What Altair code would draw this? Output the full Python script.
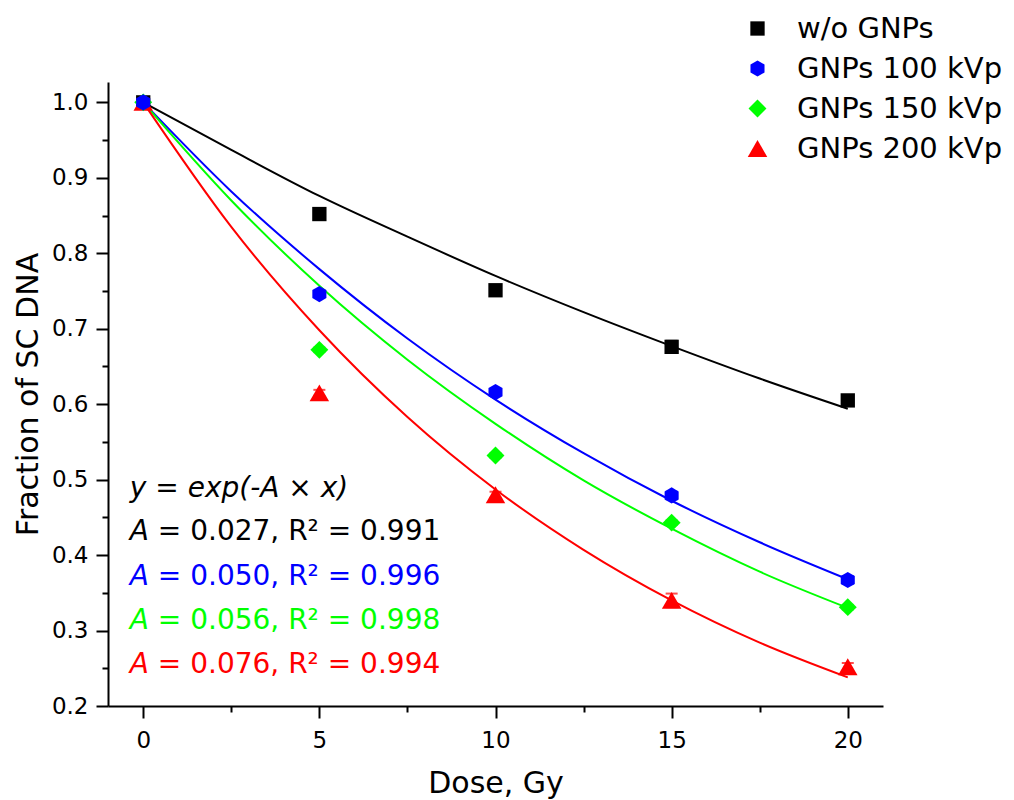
import altair as alt
import pandas as pd

# ---- data ----
doses = [0, 5, 10, 15, 20]
series = ["w/o GNPs", "GNPs 100 kVp", "GNPs 150 kVp", "GNPs 200 kVp"]
colors = ["#000000", "#0000FF", "#00FF00", "#FF0000"]

frac_wo = [1.000, 0.852, 0.751, 0.676, 0.605]
frac_100 = [1.000, 0.746, 0.616, 0.479, 0.367]
frac_150 = [1.000, 0.672, 0.532, 0.443, 0.331]
frac_200 = [1.000, 0.615, 0.480, 0.340, 0.252]

err_wo = [0.003, 0.004, 0.004, 0.008, 0.004]
err_100 = [0.003, 0.003, 0.003, 0.005, 0.005]
err_150 = [0.003, 0.003, 0.003, 0.003, 0.003]
err_200 = [0.003, 0.004, 0.004, 0.009, 0.005]

# fitted curves y = exp(-A x)
fit_x = [0, 2.5, 5, 7.5, 10, 12.5, 15, 17.5, 20]
fit_wo = [1.000, 0.937, 0.876, 0.822, 0.770, 0.722, 0.677, 0.634, 0.594]
fit_100 = [1.000, 0.882, 0.779, 0.687, 0.606, 0.535, 0.472, 0.417, 0.368]
fit_150 = [1.000, 0.870, 0.757, 0.659, 0.574, 0.499, 0.435, 0.378, 0.330]
fit_200 = [1.000, 0.835, 0.698, 0.583, 0.487, 0.407, 0.340, 0.284, 0.238]

fit_A = ["0.027", "0.050", "0.056", "0.076"]
fit_R2 = ["0.991", "0.996", "0.998", "0.994"]
equation = "y = exp(-A × x)"

x_ticks = [0, 5, 10, 15, 20]
x_minor = [2.5, 7.5, 12.5, 17.5]
y_ticks = [0.2, 0.3, 0.4, 0.5, 0.6, 0.7, 0.8, 0.9, 1.0]
y_minor = [0.25, 0.35, 0.45, 0.55, 0.65, 0.75, 0.85, 0.95]

# annotation placement (data coordinates)
ann_x = -0.38
ann_y = [0.487, 0.430, 0.371, 0.312, 0.254]

hexagon = "M0,-1L0.866,-0.5L0.866,0.5L0,1L-0.866,0.5L-0.866,-0.5Z"
shapes = ["square", hexagon, "diamond", "triangle-up"]
sizes = [205, 380, 380, 340]

FONT = "DejaVu Sans"

# ---- tables ----
fit_rows = []
for s, c, ys in zip(series, colors, [fit_wo, fit_100, fit_150, fit_200]):
    for x, y in zip(fit_x, ys):
        fit_rows.append({"dose": x, "frac": y, "series": s, "col": c})
fit_df = pd.DataFrame(fit_rows)

pt_rows = []
draw_order = [0, 3, 2, 1]
all_fr = [frac_wo, frac_100, frac_150, frac_200]
all_er = [err_wo, err_100, err_150, err_200]
for i in draw_order:
    for x, y, e in zip(doses, all_fr[i], all_er[i]):
        pt_rows.append({"dose": x, "frac": y, "lo": y - e, "hi": y + e,
                        "series": series[i], "col": colors[i]})
pt_df = pd.DataFrame(pt_rows)

ann_df = pd.DataFrame({
    "tx": [ann_x] * 4,
    "ty": ann_y[1:],
    "ital": ["A"] * 4,
    "rest": [f"=\u00a00{a[1:]}, R² = {r}" for a, r in zip(fit_A, fit_R2)],
    "col": colors,
})
eq_df = pd.DataFrame({"tx": [ann_x], "ty": [ann_y[0]], "txt": [equation]})

x_scale = alt.Scale(domain=[-1, 21], nice=False, zero=False)
y_scale = alt.Scale(domain=[0.2, 1.027], nice=False, zero=False)

axis_common = dict(
    grid=False, domainColor="black", domainWidth=2, tickColor="black",
    tickWidth=2, labelColor="black", labelFont=FONT, titleFont=FONT,
    titleColor="black", titleFontWeight="normal",
)

major_x = alt.Axis(values=x_ticks, title="Dose, Gy", tickSize=12,
                   labelFontSize=23, titleFontSize=30, labelPadding=11,
                   titlePadding=16, format="d", labelFlush=False,
                   orient="bottom", **axis_common)
major_y = alt.Axis(values=y_ticks, title="Fraction of SC DNA", tickSize=12,
                   labelFontSize=23, titleFontSize=30, labelPadding=8,
                   titlePadding=8, format=".1f", labelFlush=False,
                   orient="left", **axis_common)
minor_x = alt.Axis(values=x_minor, title="", tickSize=6, labels=False,
                   domain=False, orient="bottom", grid=False,
                   tickColor="black", tickWidth=2)
minor_y = alt.Axis(values=y_minor, title="", tickSize=6, labels=False,
                   domain=False, orient="left", grid=False,
                   tickColor="black", tickWidth=2)

X = lambda ax: alt.X("dose:Q", scale=x_scale, axis=ax)

lines = alt.Chart(fit_df).mark_line(strokeWidth=2, interpolate="monotone").encode(
    x=X(major_x),
    y=alt.Y("frac:Q", scale=y_scale, axis=major_y),
    color=alt.Color("col:N", scale=None),
    detail="series:N",
)

minor = alt.Chart(fit_df).mark_point(opacity=0).encode(
    x=X(minor_x),
    y=alt.Y("frac:Q", scale=y_scale, axis=minor_y),
)

err_rule = alt.Chart(pt_df).mark_rule(strokeWidth=2).encode(
    x=X(None),
    y=alt.Y("lo:Q", scale=y_scale, axis=None),
    y2="hi:Q",
    color=alt.Color("col:N", scale=None),
)
cap_lo = alt.Chart(pt_df).mark_tick(orient="horizontal", size=12, thickness=2).encode(
    x=X(None),
    y=alt.Y("lo:Q", scale=y_scale, axis=None),
    color=alt.Color("col:N", scale=None),
)
cap_hi = alt.Chart(pt_df).mark_tick(orient="horizontal", size=12, thickness=2).encode(
    x=X(None),
    y=alt.Y("hi:Q", scale=y_scale, axis=None),
    color=alt.Color("col:N", scale=None),
)

leg = alt.Legend(
    orient="none", legendX=635, legendY=-68, title=None,
    labelFontSize=29, labelFont=FONT, labelColor="black",
    rowPadding=10, labelOffset=25, symbolStrokeWidth=0,
    symbolOpacity=1, labelLimit=400,
    symbolFillColor="black",
)

points = alt.Chart(pt_df).mark_point(
    filled=True, opacity=1, fillOpacity=1, strokeWidth=0
).encode(
    x=X(None),
    y=alt.Y("frac:Q", scale=y_scale, axis=None),
    color=alt.Color("series:N", scale=alt.Scale(domain=series, range=colors), legend=leg),
    shape=alt.Shape("series:N", scale=alt.Scale(domain=series, range=shapes), legend=leg),
    size=alt.Size("series:N", scale=alt.Scale(domain=series, range=sizes), legend=leg),
    opacity=alt.value(1),
)

eq_text = alt.Chart(eq_df).mark_text(
    align="left", baseline="middle", fontSize=28, font=FONT,
    fontStyle="italic", color="black",
).encode(
    x=alt.X("tx:Q", scale=x_scale, axis=None),
    y=alt.Y("ty:Q", scale=y_scale, axis=None),
    text="txt:N",
)

a_text = alt.Chart(ann_df).mark_text(
    align="left", baseline="middle", fontSize=28, font=FONT, fontStyle="italic",
).encode(
    x=alt.X("tx:Q", scale=x_scale, axis=None),
    y=alt.Y("ty:Q", scale=y_scale, axis=None),
    text="ital:N",
    color=alt.Color("col:N", scale=None),
)
rest_text = alt.Chart(ann_df).mark_text(
    align="left", baseline="middle", fontSize=28, font=FONT, dx=28,
).encode(
    x=alt.X("tx:Q", scale=x_scale, axis=None),
    y=alt.Y("ty:Q", scale=y_scale, axis=None),
    text="rest:N",
    color=alt.Color("col:N", scale=None),
)

chart = alt.layer(
    lines, minor, err_rule, cap_lo, cap_hi, points, eq_text, a_text, rest_text
).resolve_axis(
    x="independent", y="independent"
).properties(
    width=775, height=624,
    autosize=alt.AutoSizeParams(type="none"),
    padding={"left": 108, "top": 82, "right": 131, "bottom": 94},
    background="white",
).configure_view(stroke="transparent").configure_legend(symbolOpacity=1)

chart.save("out.html", embed_options={"renderer": "svg", "actions": False})
